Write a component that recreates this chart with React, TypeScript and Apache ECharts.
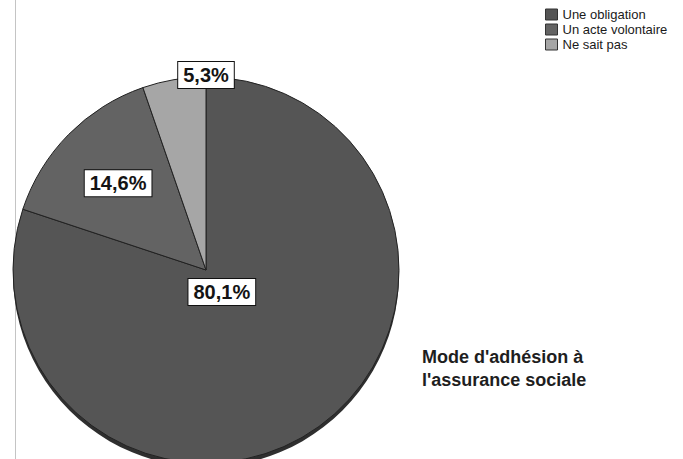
import React, { useEffect, useRef } from "react";
import * as echarts from "echarts";

// Mode d'adhésion à l'assurance sociale (%)
const categories = ["Une obligation", "Un acte volontaire", "Ne sait pas"];
const shares = [80.1, 14.6, 5.3];
const sliceColors = ["#555555", "#636363", "#a6a6a6"];
const titleLines = ["Mode d'adhésion à", "l'assurance sociale"];

// label anchor inside each slice: [fraction along slice angle, fraction of radius]
const labelAnchors: [number, number][] = [
  [0.5, 0.14],
  [0.5, 0.64],
  [1.0, 1.01],
];

const CX = 206;
const CY = 270;
const R = 193;
const FONT = 'Arial, "Liberation Sans", Helvetica, sans-serif';

export default function App() {
  const ref = useRef<HTMLDivElement>(null);

  useEffect(() => {
    if (!ref.current) return;
    const chart = echarts.init(ref.current, undefined, { renderer: "svg" });

    const total = shares.reduce((a, b) => a + b, 0);
    const starts: number[] = [];
    let acc = 0;
    shares.forEach((v) => {
      starts.push(acc);
      acc += v;
    });

    const labelPos = (i: number) => {
      const [fa, fr] = labelAnchors[i];
      const deg = ((starts[i] + shares[i] * fa) / total) * 360; // clockwise from 12 o'clock
      const rad = (deg * Math.PI) / 180;
      return { x: CX + Math.sin(rad) * R * fr, y: CY - Math.cos(rad) * R * fr };
    };

    chart.setOption({
      animation: false,
      backgroundColor: "#ffffff",
      title: {
        text: titleLines.join("\n"),
        left: 417,
        top: 340,
        textStyle: {
          fontFamily: FONT,
          fontSize: 18,
          fontWeight: "bold",
          lineHeight: 23,
          color: "#1e1e1e",
        },
      },
      legend: {
        orient: "vertical",
        left: 545,
        top: 8,
        padding: 0,
        itemWidth: 12,
        itemHeight: 11,
        itemGap: 2,
        icon: "rect",
        data: categories,
        itemStyle: { borderColor: "#333", borderWidth: 1 },
        textStyle: { fontFamily: FONT, fontSize: 13, color: "#1a1a1a", lineHeight: 13 },
      },
      graphic: [
        {
          type: "line",
          z: -10,
          shape: { x1: 15.5, y1: 0, x2: 15.5, y2: 459 },
          style: { stroke: "#c4c4c4", lineWidth: 1 },
        },
      ],
      series: [
        {
          // darker rim under the disc, giving the slight 3D edge at the bottom
          type: "pie",
          silent: true,
          z: 1,
          center: [CX, CY + 4],
          radius: R,
          label: { show: false },
          labelLine: { show: false },
          itemStyle: { color: "#2f2f2f", borderWidth: 0 },
          emphasis: { disabled: true },
          data: [{ value: 1, name: "__rim" }],
          legendHoverLink: false,
        },
        {
          type: "pie",
          z: 2,
          center: [CX, CY],
          radius: R,
          startAngle: 90,
          clockwise: true,
          avoidLabelOverlap: false,
          itemStyle: { borderColor: "#222", borderWidth: 1 },
          emphasis: { disabled: true },
          label: {
            show: true,
            position: "inside",
            formatter: (p: any) => p.value.toFixed(1).replace(".", ",") + "%",
            fontFamily: FONT,
            fontSize: 20,
            fontWeight: "bold",
            color: "#141414",
            backgroundColor: "#ffffff",
            borderColor: "#111",
            borderWidth: 1,
            padding: [4, 5, 2, 5],
          },
          labelLine: { show: false },
          labelLayout: (params: any) => {
            const p = labelPos(params.dataIndex);
            return { x: p.x, y: p.y, align: "center", verticalAlign: "middle" };
          },
          data: categories.map((name, i) => ({
            name,
            value: shares[i],
            itemStyle: { color: sliceColors[i] },
          })),
        },
      ],
    });

    return () => chart.dispose();
  }, []);

  return (
    <div
      ref={ref}
      style={{ position: "fixed", left: 0, top: 0, width: 683, height: 459 }}
    />
  );
}
